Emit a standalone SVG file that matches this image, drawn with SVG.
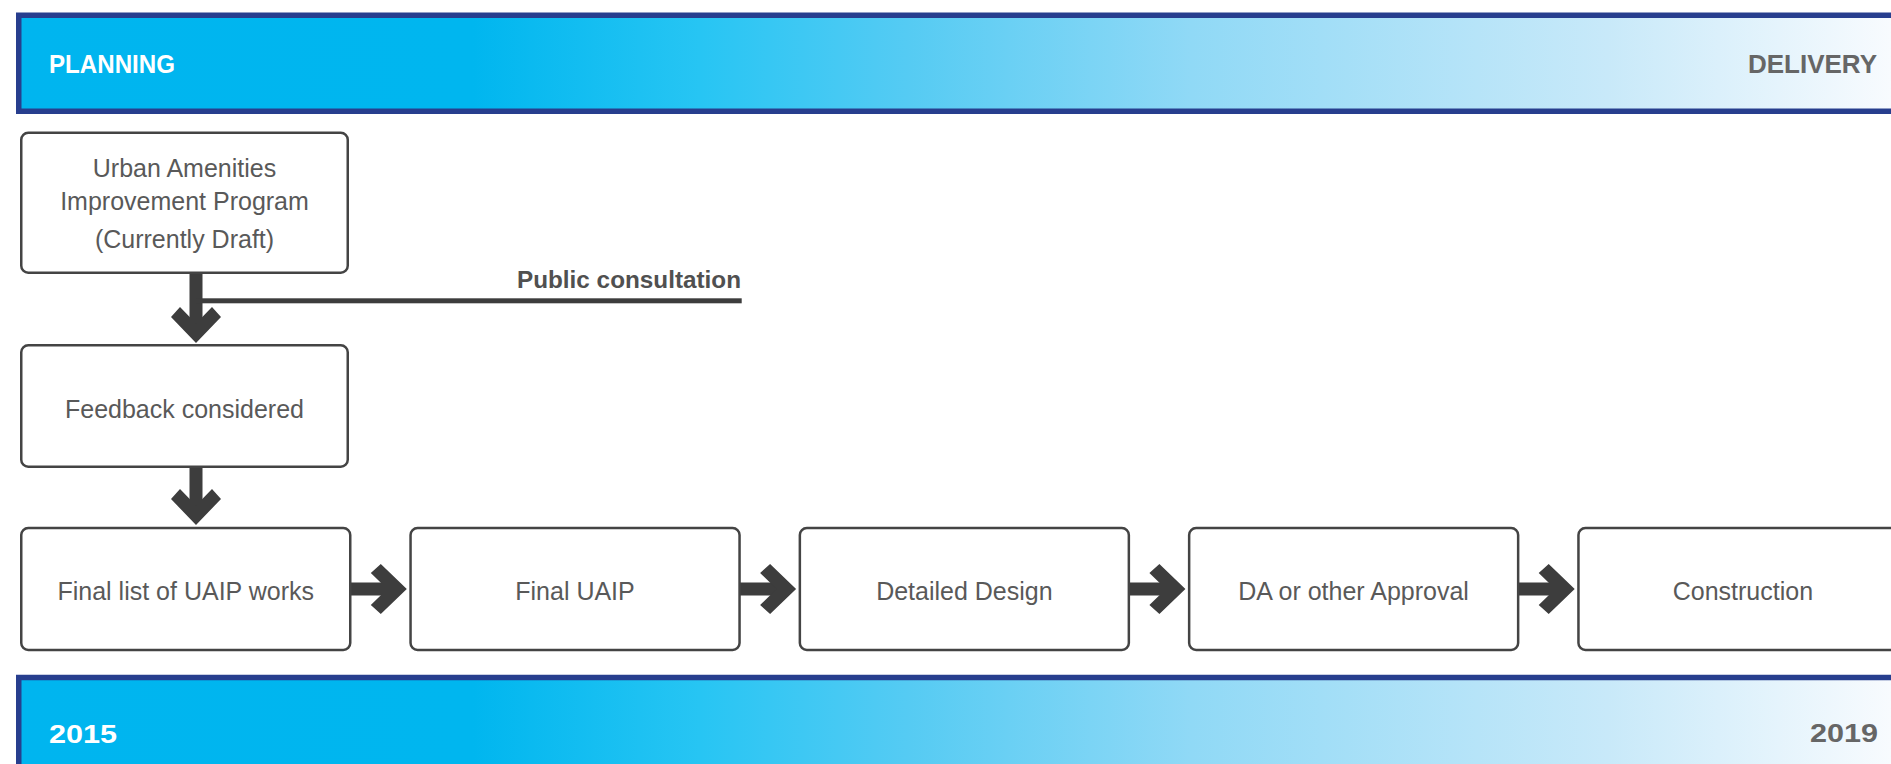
<svg xmlns="http://www.w3.org/2000/svg" xmlns:xlink="http://www.w3.org/1999/xlink" width="1891" height="764" viewBox="0 0 1891 764">
<style>
.band{stroke:#273E8E;stroke-width:5.5;fill:url(#bandGrad)}
.hdr{font-family:"Liberation Sans",Arial,sans-serif;font-weight:bold;font-size:26px}
.w{fill:#FFFFFF}
.g{fill:#666666}
.box{fill:#FFFFFF;stroke:#444444;stroke-width:2.5}
.lbl{font-family:"Liberation Sans",Arial,sans-serif;font-size:25px;fill:#595959;text-anchor:middle}
.conn{fill:#3D3D3D}
.pc{font-family:"Liberation Sans",Arial,sans-serif;font-weight:bold;font-size:23px;fill:#505050;text-anchor:end}
</style>
<defs>
<linearGradient id="bandGrad" gradientUnits="userSpaceOnUse" x1="0" y1="0" x2="1891" y2="0">
<stop offset="0" stop-color="#00B5EF"/>
<stop offset="0.25" stop-color="#00B6EF"/>
<stop offset="0.37" stop-color="#27C5F3"/>
<stop offset="0.48" stop-color="#55CBF3"/>
<stop offset="0.63" stop-color="#90D9F6"/>
<stop offset="0.85" stop-color="#C8E9F9"/>
<stop offset="1" stop-color="#F8FBFE"/>
</linearGradient>
<path id="ah" d="M0,0 L-26,-25 L-36,-16 L-19.5,0 L-36,16 L-26,25 Z"/>
</defs>

<g id="band-top">
<rect class="band" x="18.75" y="15.25" width="1900" height="96"/>
<text class="hdr w" x="49" y="72.7" textLength="126" lengthAdjust="spacingAndGlyphs">PLANNING</text>
<text class="hdr g" x="1877" y="72.7" text-anchor="end">DELIVERY</text>
</g>

<g id="band-bottom">
<rect class="band" x="18.75" y="677.5" width="1900" height="200"/>
<text class="hdr w" x="49" y="742.5" font-size="27" textLength="68" lengthAdjust="spacingAndGlyphs">2015</text>
<text class="hdr g" x="1810" y="742" font-size="27" textLength="68" lengthAdjust="spacingAndGlyphs">2019</text>
</g>

<g id="connectors" class="conn">
<rect x="189.5" y="274" width="13" height="50"/>
<use xlink:href="#ah" href="#ah" transform="translate(196,343) rotate(90)"/>
<rect x="196" y="298.3" width="545.7" height="5"/>
<rect x="189.5" y="468" width="13" height="40"/>
<use xlink:href="#ah" href="#ah" transform="translate(196,525) rotate(90)"/>
<rect x="351" y="582.5" width="40" height="13"/>
<use xlink:href="#ah" href="#ah" transform="translate(406.8,589)"/>
<rect x="740" y="582.5" width="40" height="13"/>
<use xlink:href="#ah" href="#ah" transform="translate(796.1,589)"/>
<rect x="1129.5" y="582.5" width="40" height="13"/>
<use xlink:href="#ah" href="#ah" transform="translate(1185.4,589)"/>
<rect x="1518.8" y="582.5" width="40" height="13"/>
<use xlink:href="#ah" href="#ah" transform="translate(1574.7,589)"/>
</g>
<text id="label-public-consultation" class="pc" x="741" y="288" textLength="224" lengthAdjust="spacingAndGlyphs">Public consultation</text>

<g id="node-uaip-draft">
<rect class="box" x="21.25" y="132.75" width="326.5" height="140" rx="7"/>
<text class="lbl" x="184.5" y="176.5">Urban Amenities</text>
<text class="lbl" x="184.5" y="209.5">Improvement Program</text>
<text class="lbl" x="184.5" y="248">(Currently Draft)</text>
</g>

<g id="node-feedback">
<rect class="box" x="21.25" y="345.25" width="326.5" height="121.5" rx="7"/>
<text class="lbl" x="184.5" y="418">Feedback considered</text>
</g>

<g id="node-final-list">
<rect class="box" x="21.25" y="528" width="329" height="122" rx="7"/>
<text class="lbl" x="185.75" y="600">Final list of UAIP works</text>
</g>

<g id="node-final-uaip">
<rect class="box" x="410.55" y="528" width="329" height="122" rx="7"/>
<text class="lbl" x="575" y="600">Final UAIP</text>
</g>

<g id="node-detailed-design">
<rect class="box" x="799.85" y="528" width="329" height="122" rx="7"/>
<text class="lbl" x="964.4" y="600">Detailed Design</text>
</g>

<g id="node-da-approval">
<rect class="box" x="1189.15" y="528" width="329" height="122" rx="7"/>
<text class="lbl" x="1353.6" y="600">DA or other Approval</text>
</g>

<g id="node-construction">
<rect class="box" x="1578.45" y="528" width="329" height="122" rx="7"/>
<text class="lbl" x="1742.9" y="600">Construction</text>
</g>
</svg>
